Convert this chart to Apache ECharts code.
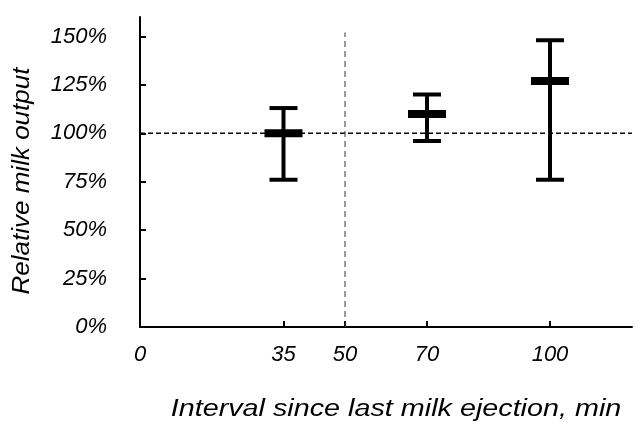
<!DOCTYPE html>
<html><head><meta charset="utf-8">
<script src="https://cdn.jsdelivr.net/npm/echarts@6/dist/echarts.min.js"></script>
<style>html,body{margin:0;padding:0;background:#fff}#c{width:638px;height:422px}</style>
</head><body><div id="c"></div>
<script>
const xTicks = [0, 35, 50, 70, 100];
const yTicks = [0, 25, 50, 75, 100, 125, 150];
const intervals = [35, 70, 100];
const means = [100, 110, 127];
const lows = [76, 96, 76];
const highs = [113, 120, 148];
const refY = 100;
const refX = 50;
const xName = 'Interval since last milk ejection, min';
const yName = 'Relative milk output';

const FONT = '"Liberation Sans", Arial, sans-serif';
const chart = echarts.init(document.getElementById('c'));
const errData = intervals.map((x, i) => [x, means[i], lows[i], highs[i]]);

chart.setOption({
  animation: false,
  grid: { left: 140, right: 6, top: 17, bottom: 95, outerBoundsMode: 'none' },
  graphic: [
    {
      type: 'text', x: 396, y: 410, scaleX: 1.25, scaleY: 1,
      style: { text: xName, fontFamily: FONT, fontStyle: 'italic', fontSize: 23, fill: '#000', align: 'center', verticalAlign: 'middle' }
    },
    {
      type: 'text', x: 23, y: 181, rotation: Math.PI / 2, scaleX: 1.13, scaleY: 1,
      style: { text: yName, fontFamily: FONT, fontStyle: 'italic', fontSize: 23, fill: '#000', align: 'center', verticalAlign: 'middle' }
    }
  ],
  xAxis: {
    type: 'value', min: 0, max: 120,
    splitLine: { show: false },
    axisLine: { lineStyle: { color: '#000', width: 2 } },
    axisTick: { inside: true, length: 6, customValues: xTicks.slice(1), lineStyle: { color: '#000', width: 2 } },
    axisLabel: { customValues: xTicks, fontFamily: FONT, fontStyle: 'italic', fontSize: 22, color: '#000', margin: 17 }
  },
  yAxis: {
    type: 'value', min: 0, max: 160,
    splitLine: { show: false },
    axisLine: { show: true, lineStyle: { color: '#000', width: 2 } },
    axisTick: { show: true, inside: true, length: 6, customValues: yTicks.slice(1), lineStyle: { color: '#000', width: 2 } },
    axisLabel: { customValues: yTicks, formatter: v => v + '%', fontFamily: FONT, fontStyle: 'italic', fontSize: 22, color: '#000', margin: 33 }
  },
  series: [
    {
      type: 'line', data: [[0, refY], [120, refY]], symbol: 'none', silent: true,
      lineStyle: { color: '#000', width: 1.5, type: [5, 3] }
    },
    {
      type: 'line', data: [[refX, 0], [refX, 152]], symbol: 'none', silent: true,
      lineStyle: { color: '#333', width: 1, type: [6, 4] }
    },
    {
      type: 'custom',
      data: errData,
      renderItem: function (params, api) {
        const x = api.value(0);
        const m = api.coord([x, api.value(1)]);
        const lo = api.coord([x, api.value(2)]);
        const hi = api.coord([x, api.value(3)]);
        const cw = 14, mw = 19;
        const st = { stroke: '#000', lineWidth: 4, fill: null };
        return {
          type: 'group',
          children: [
            { type: 'line', shape: { x1: m[0], y1: lo[1], x2: m[0], y2: hi[1] }, style: st },
            { type: 'line', shape: { x1: m[0] - cw, y1: lo[1], x2: m[0] + cw, y2: lo[1] }, style: st },
            { type: 'line', shape: { x1: m[0] - cw, y1: hi[1], x2: m[0] + cw, y2: hi[1] }, style: st },
            { type: 'rect', shape: { x: m[0] - mw, y: m[1] - 4, width: mw * 2, height: 8 }, style: { fill: '#000' } }
          ]
        };
      }
    }
  ]
});
</script></body></html>
